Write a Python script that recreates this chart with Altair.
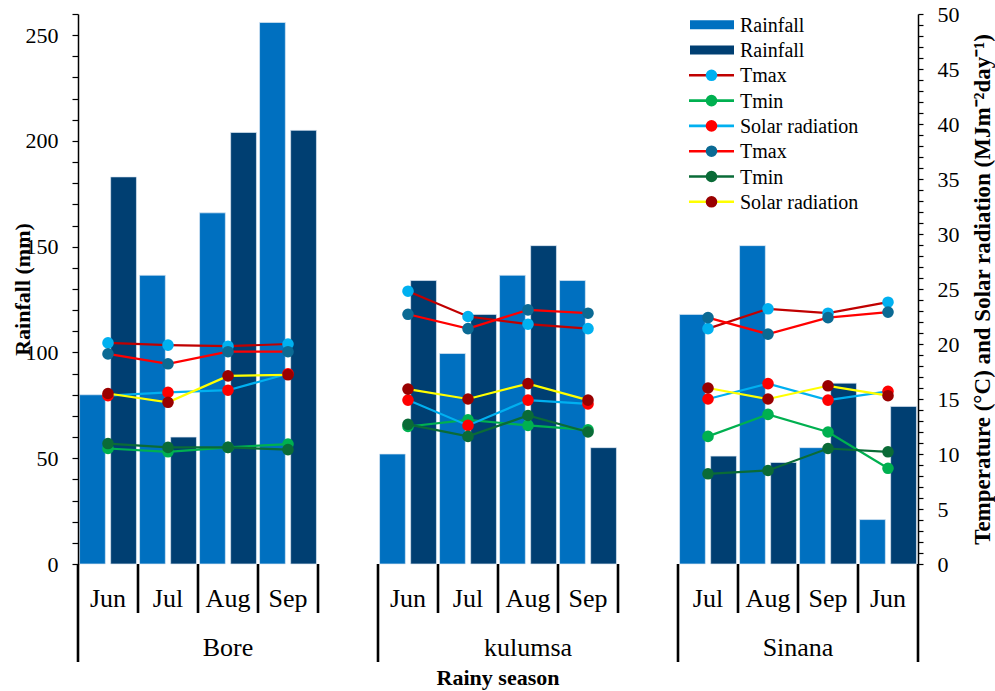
import altair as alt
import pandas as pd

FONT = "Liberation Serif"

# ---- data -------------------------------------------------------------
sites = ["Bore", "kulumsa", "Sinana"]
site_months = {
    "Bore": ["Jun", "Jul", "Aug", "Sep"],
    "kulumsa": ["Jun", "Jul", "Aug", "Sep"],
    "Sinana": ["Jul", "Aug", "Sep", "Jun"],
}

# rainfall (mm), two seasons, in site/month order
rain_a = [80, 136.5, 166, 256, 52, 99.5, 136.5, 134, 118, 150.5, 55, 21]
rain_b = [183, 60, 204, 205, 134, 118, 150.5, 55, 51, 48, 85.5, 74.5]

# temperature (°C) and solar radiation (MJ m-2 day-1)
tmax_a = [20.1, 19.9, 19.8, 20.0, 24.8, 22.5, 21.8, 21.4, 21.4, 23.2, 22.8, 23.8]
tmin_a = [10.5, 10.2, 10.6, 10.9, 12.5, 13.1, 12.6, 12.2, 11.6, 13.6, 12.0, 8.7]
solar_a = [15.3, 15.6, 15.8, 17.3, 14.9, 12.6, 14.9, 14.55, 15.0, 16.4, 14.9, 15.7]
tmax_b = [19.1, 18.2, 19.3, 19.3, 22.7, 21.4, 23.1, 22.8, 22.4, 20.9, 22.4, 22.9]
tmin_b = [10.95, 10.6, 10.6, 10.4, 12.7, 11.6, 13.5, 12.0, 8.2, 8.5, 10.5, 10.2]
solar_b = [15.5, 14.7, 17.1, 17.2, 15.9, 15.0, 16.4, 14.9, 16.0, 15.0, 16.2, 15.3]

# ---- category slots (one empty slot after Bore and kulumsa) ----------
slot_ids, month_rows = [], []
for i, s in enumerate(sites):
    for m in site_months[s]:
        sid = f"{s}|{m}"
        slot_ids.append(sid)
        month_rows.append({"slot": sid, "site": s, "month": m})
    if i < len(sites) - 1:
        slot_ids.append(f"{s}|gap")

months_df = pd.DataFrame(month_rows)

W, H = 840, 550
X_SCALE = alt.Scale(domain=slot_ids, paddingInner=0, paddingOuter=0)
R_SCALE = alt.Scale(domain=[0, 260], nice=False, zero=True)
T_SCALE = alt.Scale(domain=[0, 50], nice=False, zero=True)

BAR_A, BAR_B = "#0070C0", "#003F72"

# ---- bars (left axis) -------------------------------------------------
bar_df = pd.concat([
    months_df.assign(series="a", rain=rain_a),
    months_df.assign(series="b", rain=rain_b),
])

bars = alt.Chart(bar_df).mark_bar(stroke="#dde8f4", strokeWidth=0.7).encode(
    x=alt.X("slot:N", scale=X_SCALE,
            axis=alt.Axis(labels=False, title=None, domainWidth=3, domainColor="black",
                          ticks=True, tickSize=6, tickWidth=2.5, tickColor="black",
                          grid=False, zindex=1, orient="bottom")),
    xOffset=alt.XOffset("series:N", scale=alt.Scale(domain=["a", "b"], paddingInner=0.17,
                                                    paddingOuter=0.05)),
    y=alt.Y("rain:Q", scale=R_SCALE,
            axis=alt.Axis(orient="left", values=list(range(0, 261, 10)),
                          labelExpr="datum.value % 50 === 0 ? datum.label : ''",
                          labelFont=FONT, labelFontSize=22, labelColor="black",
                          labelPadding=14, labelOverlap=False, labelFlush=False,
                          tickSize=6, tickColor="black", tickWidth=1.2,
                          domainColor="black", domainWidth=1.5, grid=False, zindex=1,
                          title="Rainfall (mm)", titleFont=FONT, titleFontSize=22,
                          titleFontWeight="bold", titleColor="black", titleAngle=270,
                          titleX=-56, titleY=H / 2, titleAlign="center",
                          titleBaseline="middle")),
    color=alt.Color("series:N", scale=alt.Scale(domain=["a", "b"], range=[BAR_A, BAR_B]),
                    legend=None),
)

# ---- temperature / radiation lines (right axis) -----------------------
series = [
    ("Tmax", tmax_a, "#C00000", "#00B0F0"),
    ("Tmin", tmin_a, "#00B050", "#00B050"),
    ("Solar radiation", solar_a, "#00B0F0", "#FF0000"),
    ("Tmax", tmax_b, "#FF0000", "#0B6A94"),
    ("Tmin", tmin_b, "#0A6B37", "#0A6B37"),
    ("Solar radiation", solar_b, "#FFFF00", "#990000"),
]

right_axis = alt.Axis(orient="right", values=list(range(0, 51)),
                      labelExpr="datum.value % 5 === 0 ? datum.label : ''",
                      labelFont=FONT, labelFontSize=22, labelColor="black",
                      labelPadding=14, labelOverlap=False, labelFlush=False,
                      tickSize=5, tickColor="black", tickWidth=1.2,
                      domainColor="black", domainWidth=1.5, grid=False, zindex=1,
                      title="Temperature (°C) and Solar radiation (MJm⁻²day⁻¹)",
                      titleFont=FONT, titleFontSize=23, titleFontWeight="bold",
                      titleColor="black", titleAngle=270, titleX=64, titleY=H / 2,
                      titleAlign="center", titleBaseline="middle")

all_temps = pd.DataFrame({"temp": [0, 50]})
right_axis_layer = alt.Chart(all_temps).mark_point(opacity=0).encode(
    y=alt.Y("temp:Q", scale=T_SCALE, axis=right_axis))

line_layers = []
for name, vals, lcol, mcol in series:
    df = months_df.assign(temp=vals)
    xenc = alt.X("slot:N", scale=X_SCALE, axis=None)
    yenc = alt.Y("temp:Q", scale=T_SCALE, axis=None)
    line_layers.append(
        alt.Chart(df).mark_line(color=lcol, strokeWidth=2.2).encode(
            x=xenc, y=yenc, detail="site:N"))
    line_layers.append(
        alt.Chart(df).mark_point(shape="circle", filled=True, size=135, color=mcol,
                                 opacity=1).encode(x=xenc, y=yenc))

# ---- multi-level category axis ----------------------------------------
def xs(band=0.5):
    return alt.X("slot:N", scale=X_SCALE, axis=None, bandPosition=band)

month_text = alt.Chart(months_df).mark_text(
    font=FONT, fontSize=26, color="black", baseline="alphabetic", align="center"
).encode(x=xs(), y=alt.value(593), text="month:N")

first_slots = [f"{s}|{site_months[s][0]}" for s in sites]
short_df = pd.DataFrame({"slot": [s for s in slot_ids if s not in first_slots]})
long_df = pd.DataFrame({"slot": first_slots})
end_df = pd.DataFrame({"slot": [slot_ids[-1]]})

short_sep = alt.Chart(short_df).mark_rule(color="black", strokeWidth=2.6).encode(
    x=xs(0), y=alt.value(H), y2=alt.value(599))
long_sep = alt.Chart(long_df).mark_rule(color="black", strokeWidth=2.6).encode(
    x=xs(0), y=alt.value(H), y2=alt.value(648))
end_sep = alt.Chart(end_df).mark_rule(color="black", strokeWidth=2.6).encode(
    x=xs(1), y=alt.value(H), y2=alt.value(648))

# site names centred under their slots
odd_df = pd.DataFrame({"slot": ["Bore|Aug", "kulumsa|Aug"], "site": ["Bore", "kulumsa"]})
even_df = pd.DataFrame({"slot": ["Sinana|Sep"], "site": ["Sinana"]})
site_text_a = alt.Chart(odd_df).mark_text(
    font=FONT, fontSize=26, color="black", baseline="alphabetic", align="center"
).encode(x=xs(), y=alt.value(642), text="site:N")
site_text_b = alt.Chart(even_df).mark_text(
    font=FONT, fontSize=26, color="black", baseline="alphabetic", align="center"
).encode(x=xs(0), y=alt.value(642), text="site:N")

x_title = alt.Chart(pd.DataFrame({"t": ["Rainy season"]})).mark_text(
    font=FONT, fontSize=22, fontWeight="bold", color="black",
    baseline="alphabetic", align="center"
).encode(x=alt.value(W / 2), y=alt.value(671), text="t:N")

# ---- legend -----------------------------------------------------------
leg_y0, leg_dy = 10.7, 25.3
sym_x0, sym_x1, sym_xc, txt_x = 611, 656, 633.5, 662
legend_layers = []
legend_items = [("Rainfall", "bar", BAR_A, None), ("Rainfall", "bar", BAR_B, None)] + [
    (n, "line", lc, mc) for n, _, lc, mc in series]
for i, (label, kind, c1, c2) in enumerate(legend_items):
    yc = leg_y0 + i * leg_dy
    one = pd.DataFrame({"label": [label]})
    if kind == "bar":
        legend_layers.append(alt.Chart(one).mark_rect(color=c1).encode(
            x=alt.value(sym_x0 + 1), x2=alt.value(sym_x1), y=alt.value(yc - 4.5),
            y2=alt.value(yc + 4.5)))
    else:
        legend_layers.append(alt.Chart(one).mark_rule(color=c1, strokeWidth=2.6).encode(
            x=alt.value(sym_x0), x2=alt.value(sym_x1), y=alt.value(yc)))
        legend_layers.append(alt.Chart(one).mark_point(
            shape="circle", filled=True, size=135, color=c2, opacity=1).encode(
            x=alt.value(sym_xc), y=alt.value(yc)))
    legend_layers.append(alt.Chart(one).mark_text(
        font=FONT, fontSize=20, color="black", align="left", baseline="middle"
    ).encode(x=alt.value(txt_x), y=alt.value(yc + 1), text="label:N"))

chart = alt.layer(
    bars, right_axis_layer, *line_layers, short_sep, long_sep, end_sep, month_text,
    site_text_a, site_text_b, x_title, *legend_layers
).resolve_scale(y="independent").properties(
    width=W, height=H,
    padding={"left": 78, "top": 14, "right": 77, "bottom": 127},
    autosize=alt.AutoSizeParams(type="none"),
).configure(font=FONT).configure_view(stroke=None)

chart.save("out.html", embed_options={"renderer": "svg", "actions": False})
